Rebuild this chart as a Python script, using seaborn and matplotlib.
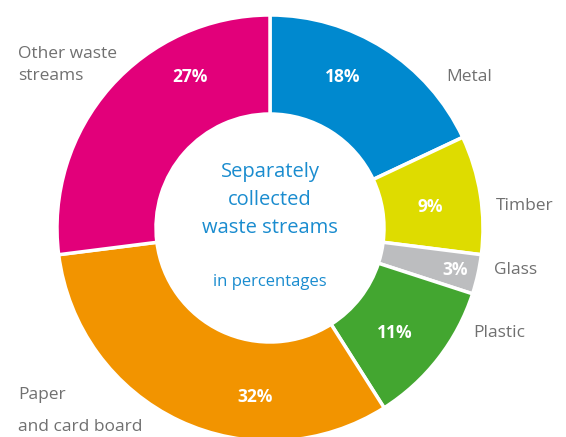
import matplotlib
matplotlib.use("Agg")
import matplotlib.pyplot as plt
import seaborn as sns

# data (clockwise from the top)
categories = ["Metal", "Timber", "Glass", "Plastic", "Paper\nand card board", "Other waste\nstreams"]
shares = [18, 9, 3, 11, 32, 27]
colors = ["#0089cf", "#dedc00", "#bcbdbf", "#43a630", "#f29400", "#e2007a"]

# layout: label positions in pixel offsets from the donut centre
pct_pos = [(73, 151), (160, 21), (185, -42), (125, -105), (-15, -169), (-80, 151)]
cat_pos = [(176, 151), (226, 22), (224, -42), (203, -105), (-252, -183), (-252, 163)]
cat_spacing = [1.3, 1.3, 1.3, 1.3, 2.4, 1.47]

sns.set_theme(style="white")
plt.rcParams["font.family"] = ["Open Sans", "DejaVu Sans"]

fig = plt.figure(figsize=(5.66, 4.37), dpi=100)
ax = fig.add_axes([0, 0, 1, 1])

ax.pie(shares, colors=colors, radius=213, startangle=90, counterclock=False,
       wedgeprops=dict(width=99, edgecolor="white", linewidth=2.5))

for p, (x, y) in zip(shares, pct_pos):
    ax.text(x, y, f"{p}%", color="white", fontsize=12.5, fontweight="bold",
            ha="center", va="center")

for lab, (x, y), ls in zip(categories, cat_pos, cat_spacing):
    ax.text(x, y, lab, color="#707070", fontsize=12.5, ha="left", va="center",
            linespacing=ls)

blue = "#1a8ccf"
ax.text(0, 28, "Separately\ncollected\nwaste streams", color=blue, fontsize=14.5,
        ha="center", va="center", linespacing=1.54)
ax.text(0, -54, "in percentages", color=blue, fontsize=12, ha="center", va="center")

ax.set_xlim(-270, 296)
ax.set_ylim(-209, 228)
ax.set_aspect("equal")
ax.axis("off")

fig.savefig("out.png", dpi=100)
